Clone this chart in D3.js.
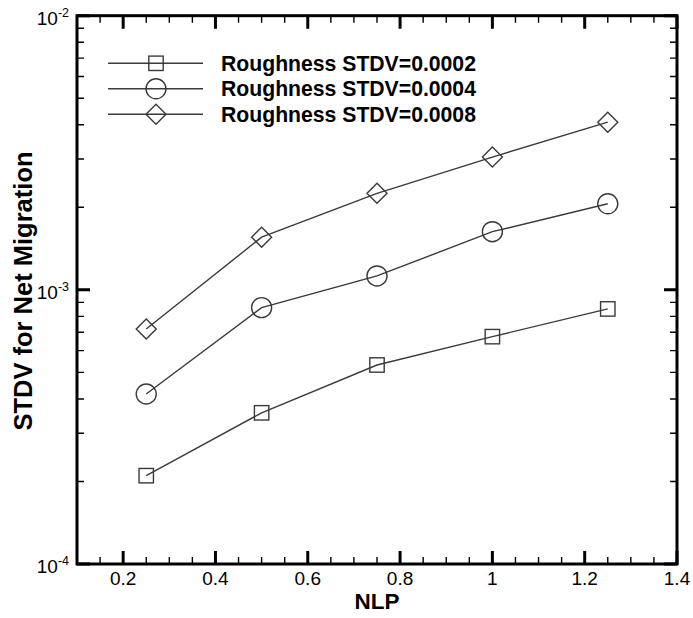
<!DOCTYPE html>
<html>
<head>
<meta charset="utf-8">
<script src="https://cdn.jsdelivr.net/npm/d3@7"></script>
<style>
  html, body { margin: 0; padding: 0; background: #fff; }
  svg { display: block; font-family: "Liberation Sans", Arial, Helvetica, sans-serif; }
</style>
</head>
<body>
<svg id="chart" width="693" height="618"></svg>
<script>
// ---- data ----
const nlp = [0.25, 0.5, 0.75, 1.0, 1.25];
const rough0002 = [2.10e-4, 3.56e-4, 5.32e-4, 6.75e-4, 8.52e-4];
const rough0004 = [4.17e-4, 8.61e-4, 1.124e-3, 1.63e-3, 2.06e-3];
const rough0008 = [7.20e-4, 1.556e-3, 2.25e-3, 3.05e-3, 4.09e-3];
const seriesLabels = ["Roughness STDV=0.0002", "Roughness STDV=0.0004", "Roughness STDV=0.0008"];
const seriesSymbols = ["square", "circle", "diamond"];
const xTickValues = [0.2, 0.4, 0.6, 0.8, 1.0, 1.2, 1.4];
const xTickLabels = ["0.2", "0.4", "0.6", "0.8", "1", "1.2", "1.4"];
const yTickValues = [1e-4, 1e-3, 1e-2];
const yTickExponents = ["-4", "-3", "-2"];
const xTitle = "NLP";
const yTitle = "STDV for Net Migration";

// ---- layout ----
const L = 77, R = 677, T = 15.7, B = 564;
const svg = d3.select("#chart");
const x = d3.scaleLinear().domain([0.1, 1.4]).range([L, R]);
const y = d3.scaleLog().domain([1e-4, 1e-2]).range([B, T]);

const stroke = "#000";
const markStroke = "#3a3a3a";
const MAJ = 13, MIN = 7;

// minor ticks
const xMinor = d3.range(0.15, 1.4001, 0.05).map(v => +v.toFixed(2)).filter(v => !xTickValues.some(t => Math.abs(t - v) < 1e-6));
const yMinor = [];
[1e-4, 1e-3].forEach(d => { for (let k = 2; k <= 9; k++) yMinor.push(d * k); });

function xTickPath(vals, len) {
  return vals.map(v => `M${x(v)},${B}V${B - len}M${x(v)},${T}V${T + len}`).join("");
}
function yTickPath(vals, len) {
  return vals.map(v => `M${L},${y(v)}H${L + len}M${R},${y(v)}H${R - len}`).join("");
}
const tickG = svg.append("g");
tickG.append("path").attr("d", xTickPath(xTickValues, MAJ) + yTickPath(yTickValues, MAJ))
  .attr("fill", "none").attr("stroke", stroke).attr("stroke-width", 3);
tickG.append("path").attr("d", xTickPath(xMinor, MIN) + yTickPath(yMinor, MIN))
  .attr("fill", "none").attr("stroke", stroke).attr("stroke-width", 1.4);

// frame
svg.append("rect").attr("x", L).attr("y", T).attr("width", R - L).attr("height", B - T)
  .attr("fill", "none").attr("stroke", stroke).attr("stroke-width", 3);

// x tick labels
svg.append("g").selectAll("text").data(xTickValues).join("text")
  .attr("x", d => x(d)).attr("y", 585)
  .attr("text-anchor", "middle").attr("font-size", 19).attr("fill", "#000")
  .text((d, i) => xTickLabels[i]);

// y tick labels with superscript
const yl = svg.append("g").selectAll("text").data(yTickValues).join("text")
  .attr("x", 69).attr("y", d => y(d) + 9)
  .attr("text-anchor", "end").attr("font-size", 19).attr("fill", "#000");
yl.append("tspan").text("10");
yl.append("tspan").attr("font-size", 12.5).attr("dy", -8).text((d, i) => yTickExponents[i]);

// axis titles
svg.append("text").attr("x", (L + R) / 2).attr("y", 609).attr("text-anchor", "middle")
  .attr("font-size", 22.5).attr("font-weight", "bold").attr("fill", "#000").text(xTitle);
svg.append("text").attr("transform", `translate(32,291) rotate(-90)`).attr("text-anchor", "middle")
  .attr("font-size", 25.5).attr("font-weight", "bold").attr("fill", "#000").text(yTitle);

// symbols
function drawSymbol(g, type, cx, cy) {
  if (type === "square") {
    g.append("rect").attr("x", cx - 7.2).attr("y", cy - 7.2).attr("width", 14.4).attr("height", 14.4)
      .attr("fill", "none").attr("stroke", markStroke).attr("stroke-width", 1.4);
  } else if (type === "circle") {
    g.append("circle").attr("cx", cx).attr("cy", cy).attr("r", 10)
      .attr("fill", "none").attr("stroke", markStroke).attr("stroke-width", 1.4);
  } else {
    g.append("path").attr("d", `M${cx},${cy - 10}L${cx + 10},${cy}L${cx},${cy + 10}L${cx - 10},${cy}Z`)
      .attr("fill", "none").attr("stroke", markStroke).attr("stroke-width", 1.4);
  }
}

const allSeries = [rough0002, rough0004, rough0008];
const line = d3.line().x(d => x(d[0])).y(d => y(d[1]));
allSeries.forEach((vals, si) => {
  const pts = nlp.map((n, i) => [n, vals[i]]);
  const g = svg.append("g");
  g.append("path").attr("d", line(pts)).attr("fill", "none").attr("stroke", markStroke).attr("stroke-width", 1.4);
  pts.forEach(p => drawSymbol(g, seriesSymbols[si], x(p[0]), y(p[1])));
});

// legend
const legendRows = [63.3, 88.8, 114.3];
seriesLabels.forEach((lab, i) => {
  const g = svg.append("g");
  const cy = legendRows[i];
  g.append("line").attr("x1", 108).attr("x2", 203).attr("y1", cy).attr("y2", cy)
    .attr("stroke", markStroke).attr("stroke-width", 1.4);
  drawSymbol(g, seriesSymbols[i], 156, cy);
  g.append("text").attr("x", 221).attr("y", cy + 7.5).attr("font-size", 21.2).attr("font-weight", "bold")
    .attr("fill", "#000").text(lab);
});
</script>
</body>
</html>
